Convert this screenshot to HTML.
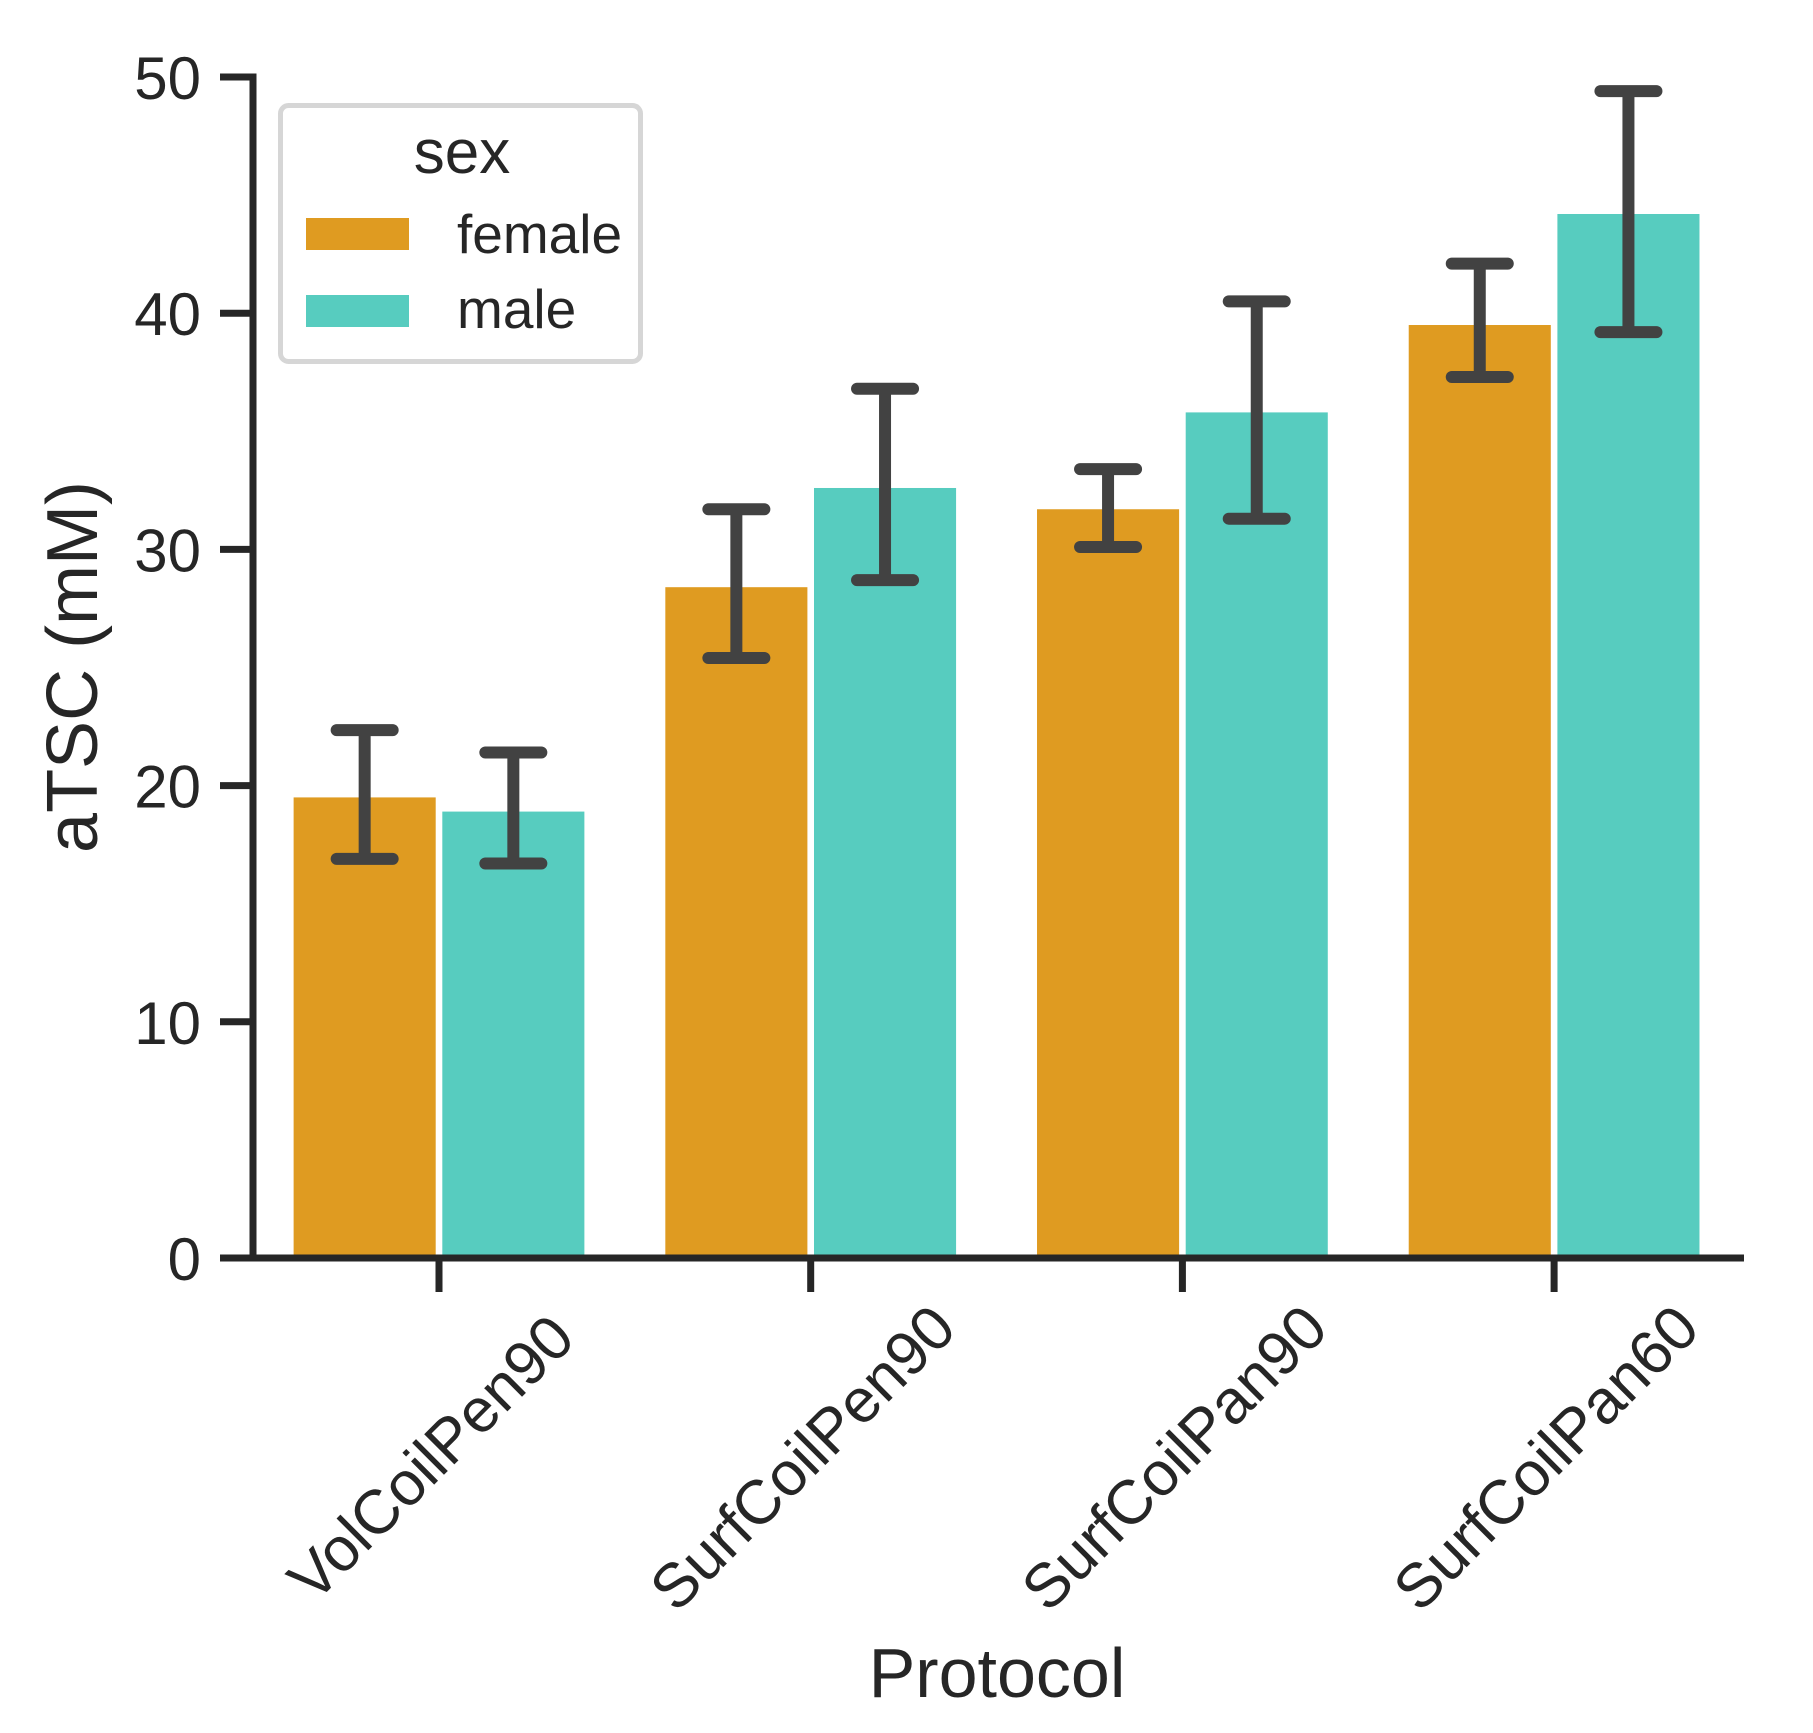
<!DOCTYPE html>
<html><head><meta charset="utf-8"><style>
html,body{margin:0;padding:0;background:#fff;}
svg{display:block;font-family:"Liberation Sans",Arial,sans-serif;}
</style></head><body>
<svg id="chart" width="1813" height="1733" viewBox="0 0 1813 1733" xmlns="http://www.w3.org/2000/svg">
<g id="bars"></g>
<g id="errs"></g>
<g id="axes"></g>
<text x="97" y="667" font-size="72" fill="#262626" text-anchor="middle" transform="rotate(-90 97 667)">aTSC (mM)</text>
<text x="997" y="1697" font-size="70" fill="#262626" text-anchor="middle">Protocol</text>
<g>
<rect x="280.5" y="105.5" width="360" height="256" rx="8" fill="#fff" stroke="#d6d6d6" stroke-width="5"/>
<text x="462" y="173" font-size="62" fill="#262626" text-anchor="middle">sex</text>
<rect x="306" y="218" width="103" height="32" fill="#df9b21"/>
<text x="457" y="253" font-size="55" fill="#262626">female</text>
<rect x="306" y="295" width="103" height="32" fill="#57ccbf"/>
<text x="457" y="328" font-size="55" fill="#262626">male</text>
</g>
</svg>
<script>
const categories = ["VolCoilPen90","SurfCoilPen90","SurfCoilPan90","SurfCoilPan60"];
const femaleValues = [19.5, 28.4, 31.7, 39.5];
const femaleLow = [16.9, 25.4, 30.1, 37.3];
const femaleHigh = [22.35, 31.7, 33.4, 42.1];
const maleValues = [18.9, 32.6, 35.8, 44.2];
const maleLow = [16.7, 28.7, 31.3, 39.2];
const maleHigh = [21.4, 36.8, 40.5, 49.4];
const yTicks = [0,10,20,30,40,50];

const NS="http://www.w3.org/2000/svg";
const x0=439, step=371.7, yBase=1258, yTop=77, yMax=50;
function xPos(i){return x0+i*step;}
function yPos(v){return yBase-(v/yMax)*(yBase-yTop);}
function mk(tag,attrs,parent){const e=document.createElementNS(NS,tag);for(const k in attrs)e.setAttribute(k,attrs[k]);parent.appendChild(e);return e;}
const bars=document.getElementById('bars'), errs=document.getElementById('errs'), axes=document.getElementById('axes');
const bw=step*0.4;
const series=[{name:'female',vals:femaleValues,lo:femaleLow,hi:femaleHigh,color:'#df9b21',off:-0.5},
              {name:'male',vals:maleValues,lo:maleLow,hi:maleHigh,color:'#57ccbf',off:0.5}];
series.forEach(s=>{
  categories.forEach((c,i)=>{
    const cx=xPos(i)+s.off*bw;
    const r=mk('rect',{x:cx-bw/2+3.3,y:yPos(s.vals[i]),width:bw-6.6,height:yBase-yPos(s.vals[i]),fill:s.color},bars);
    
    
    const g=mk('g',{stroke:'#424242','stroke-width':12,'stroke-linecap':'round',fill:'none'},errs);
    
    
    mk('line',{x1:cx,x2:cx,y1:yPos(s.lo[i]),y2:yPos(s.hi[i]),'stroke-linecap':'butt'},g);
    mk('line',{x1:cx-28,x2:cx+28,y1:yPos(s.lo[i]),y2:yPos(s.lo[i])},g);
    mk('line',{x1:cx-28,x2:cx+28,y1:yPos(s.hi[i]),y2:yPos(s.hi[i])},g);
  });
});
const ya=mk('line',{x1:253,x2:253,y1:yTop-3.5,y2:yBase+3.5,stroke:'#262626','stroke-width':7},axes);


const xa=mk('line',{x1:249.5,x2:1744,y1:yBase,y2:yBase,stroke:'#262626','stroke-width':7},axes);


yTicks.forEach(t=>{
  const y=yPos(t);
  const tk=mk('line',{x1:220,x2:253,y1:y,y2:y,stroke:'#262626','stroke-width':7},axes);
  
  
  const tx=mk('text',{x:201,y:y+22,'font-size':60,fill:'#262626','text-anchor':'end'},axes);
  tx.textContent=t;
  
  
});
categories.forEach((c,i)=>{
  const x=xPos(i);
  const tk=mk('line',{x1:x,x2:x,y1:yBase,y2:1292,stroke:'#262626','stroke-width':7},axes);
  
  
  const cx=x-8, cy=1458;
  const tx=mk('text',{x:cx,y:cy+21,'font-size':62,fill:'#262626','text-anchor':'middle',transform:'rotate(-45 '+cx+' '+cy+')'},axes);
  tx.textContent=c;
  
  
});
</script>
</body></html>
